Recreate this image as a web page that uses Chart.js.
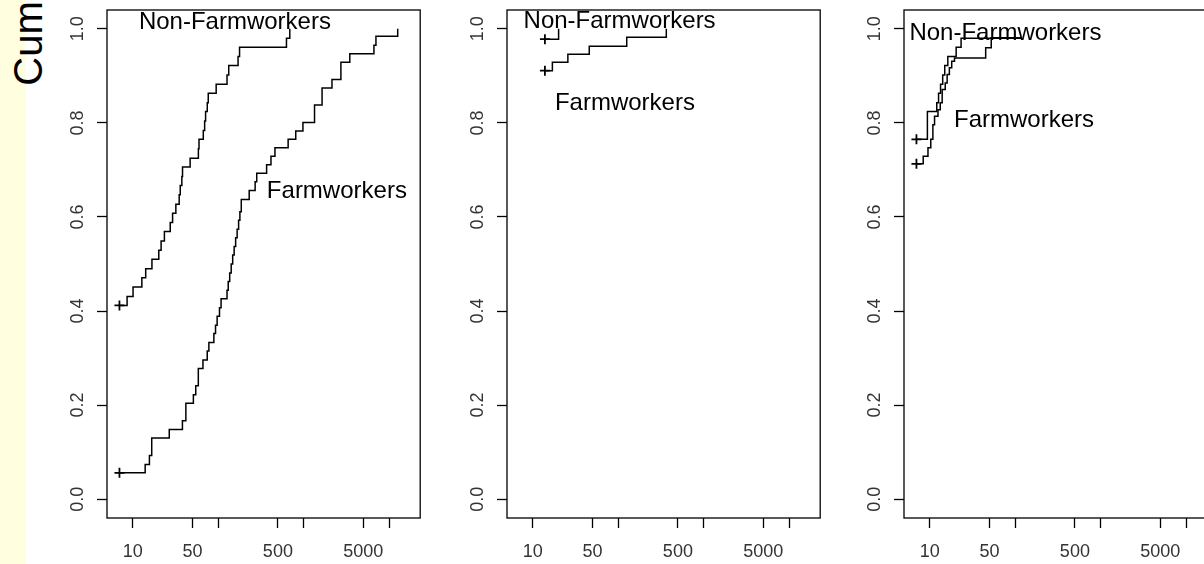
<!DOCTYPE html>
<html><head><meta charset="utf-8">
<script src="https://cdn.jsdelivr.net/npm/chart.js@4.4.1/dist/chart.umd.min.js"></script>
<style>
html,body{margin:0;padding:0;background:#fff;width:1204px;height:564px;overflow:hidden;position:relative;}
#strip{position:absolute;left:0;top:0;width:26px;height:564px;background:#FFFFE0;}
#ylab{position:absolute;left:0;top:0;transform-origin:0 0;transform:translate(7.8px,85.7px) rotate(-90deg);font:40px "Liberation Sans",Arial,sans-serif;line-height:40px;white-space:nowrap;color:#000;}
canvas{position:absolute;top:0;}
</style></head><body>
<div id="strip"></div>
<div id="ylab">Cum</div>
<canvas id="c1" width="420" height="564" style="left:7px"></canvas>
<canvas id="c2" width="420" height="564" style="left:407px"></canvas>
<canvas id="c3" width="420" height="564" style="left:804px"></canvas>
<script>
// ---- tick values / labels ----
const xTicks = [10, 50, 100, 500, 1000, 5000, 10000];
const xTickLabels = ['10', '50', '', '500', '', '5000', ''];
const yTicks = [0, 0.2, 0.4, 0.6, 0.8, 1.0];
const yTickLabels = ['0.0', '0.2', '0.4', '0.6', '0.8', '1.0'];
const seriesNames = ['Non-Farmworkers', 'Farmworkers'];

// ---- panel 1 ----
const p1NonFarmX = [7, 8.6, 10.1, 12.8, 14.2, 16.8, 20.2, 21.5, 23.5, 27.5, 29.3, 32, 35, 36, 37.6, 38.3, 47, 58.7, 59.7, 67, 69.5, 71.3, 74.6, 76.6, 94.8, 127, 133, 171, 178, 630, 689];
const p1NonFarmY = [0.412, 0.431, 0.451, 0.471, 0.490, 0.510, 0.529, 0.549, 0.569, 0.588, 0.608, 0.627, 0.647, 0.667, 0.686, 0.706, 0.725, 0.745, 0.765, 0.784, 0.804, 0.824, 0.843, 0.863, 0.882, 0.902, 0.922, 0.941, 0.961, 0.980, 1.000];
const p1FarmX = [7, 14.0, 15.7, 16.7, 26.8, 38.2, 41.9, 51.3, 54.7, 58.6, 66.4, 74.5, 77.9, 89.1, 93.2, 97.3, 103.7, 108.2, 127, 131.2, 136.5, 142.1, 147.9, 153.9, 160.2, 166.8, 173.5, 179.6, 186.5, 230.8, 270.8, 282.7, 369, 415, 462, 659, 809, 982, 1342, 1644, 2147, 2731, 3470, 6650, 7020, 12620];
const p1FarmY = [0.056, 0.074, 0.093, 0.130, 0.148, 0.167, 0.204, 0.222, 0.241, 0.278, 0.296, 0.315, 0.333, 0.352, 0.370, 0.389, 0.407, 0.426, 0.444, 0.463, 0.481, 0.500, 0.519, 0.537, 0.556, 0.574, 0.593, 0.611, 0.637, 0.656, 0.675, 0.693, 0.711, 0.729, 0.747, 0.765, 0.783, 0.801, 0.838, 0.874, 0.892, 0.929, 0.947, 0.965, 0.984, 1.000];

// ---- panel 2 ----
const p2NonFarmX = [13.9, 20.1];
const p2NonFarmY = [0.978, 1.000];
const p2FarmX = [13.9, 17.0, 25.8, 45.9, 126, 366];
const p2FarmY = [0.911, 0.929, 0.946, 0.963, 0.982, 1.000];

// ---- panel 3 ----
const p3NonFarmX = [7.0, 9.4, 12.1, 12.7, 13.4, 14.2, 15.0, 16.3, 20.4, 23.3, 119];
const p3NonFarmY = [0.765, 0.824, 0.843, 0.863, 0.882, 0.902, 0.922, 0.941, 0.961, 0.980, 0.980];
const p3FarmX = [7.0, 8.4, 9.55, 10.3, 10.9, 11.4, 12.5, 13.3, 14.0, 15.2, 16.0, 17.0, 18.1, 19.5, 45.2, 52.5, 119];
const p3FarmY = [0.713, 0.729, 0.747, 0.765, 0.796, 0.814, 0.828, 0.843, 0.871, 0.885, 0.903, 0.917, 0.931, 0.938, 0.960, 0.981, 0.981];

// ---- axis limits (R style 4% extension on log axis) ----
const X_MIN = 5.0055, X_MAX = 23128;
const Y_MIN = -0.04, Y_MAX = 1.04;

const FONT = '"Liberation Sans", Arial, Helvetica, sans-serif';
Chart.defaults.font.family = FONT;

const boxAndText = {
  id: 'boxAndText',
  afterDraw(chart) {
    const {ctx, chartArea: a, scales} = chart;
    ctx.save();
    ctx.strokeStyle = '#000';
    ctx.lineWidth = 1.3;
    ctx.strokeRect(a.left, a.top, a.right - a.left, a.bottom - a.top);
    ctx.fillStyle = '#000';
    ctx.font = '24px ' + FONT;
    ctx.textAlign = 'center';
    ctx.textBaseline = 'middle';
    (chart.options.plugins.boxAndText.labels || []).forEach(l => {
      ctx.fillText(l.text, scales.x.getPixelForValue(l.x), scales.y.getPixelForValue(l.y));
    });
    ctx.restore();
  }
};

function toPts(xs, ys) { return xs.map((x, i) => ({x: x, y: ys[i]})); }

function noPad(s) { s.paddingTop = 0; s.paddingBottom = 0; s.paddingLeft = 0; s.paddingRight = 0; }

function makePanel(id, nfX, nfY, fX, fY, labels) {
  const ds = (name, xs, ys) => ({
    label: name,
    data: toPts(xs, ys),
    stepped: 'before',
    borderColor: '#000',
    borderWidth: 1.5,
    fill: false,
    pointStyle: 'cross',
    pointRadius: c => c.dataIndex === 0 ? 5 : 0,
    pointHoverRadius: 0,
    pointBorderColor: '#000',
    pointBorderWidth: 1.8,
    tension: 0
  });
  new Chart(document.getElementById(id), {
    type: 'line',
    data: { datasets: [ds(seriesNames[0], nfX, nfY), ds(seriesNames[1], fX, fY)] },
    options: {
      responsive: false,
      animation: false,
      events: [],
      layout: { padding: { left: 0, right: 3, top: 10, bottom: 0 } },
      plugins: { legend: { display: false }, tooltip: { enabled: false }, boxAndText: { labels: labels } },
      scales: {
        x: {
          type: 'logarithmic',
          min: X_MIN, max: X_MAX,
          afterBuildTicks: s => { s.ticks = xTicks.map(v => ({value: v})); },
          afterFit: s => { s.height = 46; noPad(s); },
          border: { display: false },
          grid: { drawOnChartArea: false, drawTicks: true, tickLength: 10, tickColor: '#000', tickWidth: 1.3 },
          ticks: {
            autoSkip: false, maxRotation: 0, minRotation: 0, padding: 13,
            color: '#333', font: { size: 18 },
            callback: (v, i) => xTickLabels[i]
          }
        },
        y: {
          type: 'linear',
          min: Y_MIN, max: Y_MAX,
          afterBuildTicks: s => { s.ticks = yTicks.map(v => ({value: v})); },
          afterFit: s => { s.width = 100; noPad(s); },
          border: { display: false },
          grid: { drawOnChartArea: false, drawTicks: true, tickLength: 10, tickColor: '#000', tickWidth: 1.3 },
          ticks: {
            autoSkip: false, minRotation: 90, maxRotation: 90, crossAlign: 'center', padding: 6,
            color: '#333', font: { size: 18 },
            callback: (v, i) => yTickLabels[i]
          }
        }
      }
    },
    plugins: [boxAndText]
  });
}

makePanel('c1', p1NonFarmX, p1NonFarmY, p1FarmX, p1FarmY,
  [{text: seriesNames[0], x: 157, y: 1.013}, {text: seriesNames[1], x: 2450, y: 0.654}]);
makePanel('c2', p2NonFarmX, p2NonFarmY, p2FarmX, p2FarmY,
  [{text: seriesNames[0], x: 104, y: 1.015}, {text: seriesNames[1], x: 120, y: 0.842}]);
makePanel('c3', p3NonFarmX, p3NonFarmY, p3FarmX, p3FarmY,
  [{text: seriesNames[0], x: 77, y: 0.991}, {text: seriesNames[1], x: 127, y: 0.806}]);
</script>
</body></html>
